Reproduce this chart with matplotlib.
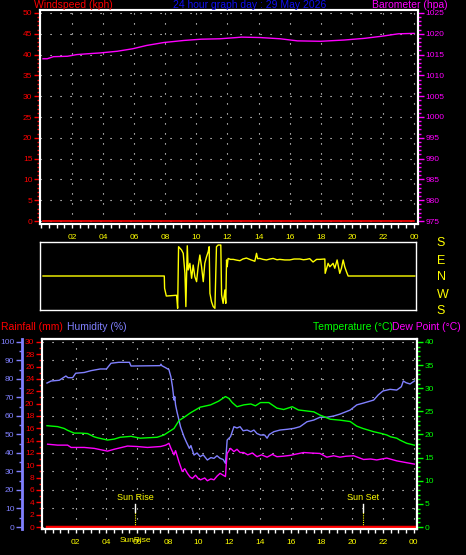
import matplotlib
matplotlib.use('Agg')
import matplotlib.pyplot as plt
from matplotlib.ticker import MultipleLocator

plt.rcParams['font.family'] = ['Liberation Sans', 'DejaVu Sans']

# ---- data ----
hour_ticks = [2, 4, 6, 8, 10, 12, 14, 16, 18, 20, 22, 24]
hour_labels = ['02', '04', '06', '08', '10', '12', '14', '16', '18', '20', '22', '00']

wind_h = [0.13, 24.0]
wind = [0, 0]

baro_h = [0.13, 0.4, 0.8, 1.7, 2.3, 3.0, 3.8, 4.9, 5.9, 6.8, 7.9, 9.2, 10.3, 11.5,
          12.6, 12.9, 14.1, 15.4, 16.5, 18.0, 19.5, 20.8, 21.9, 23.0, 24.0]
baro = [1014.0, 1014.0, 1014.5, 1014.6, 1015.0, 1015.2, 1015.4, 1015.8, 1016.4, 1017.2,
        1017.9, 1018.4, 1018.7, 1018.8, 1019.1, 1019.2, 1019.1, 1018.8, 1018.3, 1018.2,
        1018.5, 1018.9, 1019.4, 1020.0, 1020.1]

# wind direction: 0 = N, 90 = E, -90 = W, +/-180 = S
dir_h = [0.13, 7.94, 7.96, 8.07, 8.73, 8.80, 8.86, 9.05, 9.16, 9.27, 9.33, 9.42, 9.48,
         9.59, 9.70, 9.80, 9.91, 10.02, 10.12, 10.23, 10.34, 10.45, 10.55, 10.66, 10.77,
         10.83, 10.88, 10.98, 11.09, 11.20, 11.30, 11.41, 11.52, 11.58, 11.63, 11.73,
         11.84, 11.90, 11.95, 11.99, 12.05, 12.2, 12.38, 12.6, 12.81, 13.0, 13.23, 13.5,
         13.77, 13.88, 13.95, 14.09, 14.3, 14.52, 14.75, 14.95, 15.2, 15.38, 15.7, 16.02,
         16.3, 16.67, 16.9, 17.10, 17.3, 17.52, 17.75, 17.95, 18.28, 18.30, 18.49, 18.60,
         18.81, 18.92, 19.07, 19.24, 19.35, 19.46, 19.56, 19.67, 19.78, 24.07]
wdir = [0, 0, -65, -106, -102, -171, 155, 138, 120, 14, -162, 160, 32,
        67, -12, 58, -4, -30, 49, 111, 49, -30, 67, 102, 129,
        155, -92, -136, -162, -171, 155, 164, 164, 164, -100, -145,
        -74, -145, 85, 49, 93, 88, 88, 84, 81, 90, 95, 86,
        78, 120, 92, 93, 88, 85, 90, 93, 86, 88, 85, 85,
        90, 90, 86, 88, 92, 74, 88, 88, 90, 14, 67, 49,
        67, 41, 85, 14, 41, 85, 49, 23, 0, 0]

hum_h = [0.13, 0.4, 0.93, 1.36, 1.5, 1.8, 2.0, 2.55, 3.0, 3.6, 4.0, 4.3, 4.8, 5.5, 5.6,
         7.5, 7.55, 7.6, 7.85, 8.07, 8.2, 8.3, 8.4, 8.45, 8.5, 8.6, 8.83, 9.05, 9.2, 9.4,
         9.5, 9.7, 9.9, 10.1, 10.3, 10.57, 10.8, 11.0, 11.2, 11.4, 11.6, 11.75, 11.8, 11.86,
         12.08, 12.3, 12.5, 12.7, 12.9, 13.16, 13.4, 13.6, 13.8, 14.03, 14.3, 14.46, 14.6,
         14.9, 15.3, 15.76, 16.2, 16.6, 17.06, 17.5, 17.9, 18.35, 18.8, 19.2, 19.87, 20.3,
         20.7, 21.4, 21.7, 22.0, 22.47, 22.9, 23.2, 23.33, 23.5, 23.77, 24.05]
hum = [77.8, 78.9, 79.3, 81.6, 80.7, 80.7, 83.1, 83.5, 84.5, 85.4, 85.4, 88.5, 89.0, 89.0, 87.0,
       87.2, 88.0, 87.2, 86.1, 85.0, 81.0, 75.8, 68.6, 70.4, 66.0, 62.0, 54.0, 48.8, 46.0, 42.5,
       44.0, 38.9, 40.0, 38.0, 39.0, 36.2, 37.5, 37.1, 38.5, 37.1, 36.5, 34.4, 40.0, 47.0,
       48.8, 54.2, 53.5, 54.2, 52.0, 52.4, 51.5, 52.4, 50.5, 49.7, 49.7, 48.0, 50.0,
       51.5, 52.4, 52.8, 53.3, 54.2, 56.9, 57.8, 59.3, 59.3, 60.0, 61.0, 63.2, 66.0,
       66.9, 68.6, 71.4, 73.5, 74.4, 74.0, 75.8, 78.9, 78.0, 77.3, 78.9]

temp_h = [0.13, 0.82, 1.25, 1.47, 1.9, 2.3, 2.77, 3.2, 3.4, 4.07, 4.5, 4.9, 5.6, 6.2, 7.3,
          7.75, 8.07, 8.4, 8.72, 9.05, 9.48, 10.1, 10.78, 11.3, 11.75, 11.97, 12.19, 12.5,
          12.94, 13.4, 13.7, 14.03, 14.57, 15.1, 15.54, 16.1, 16.5, 17.5, 17.9, 18.57, 19.2,
          19.87, 20.3, 20.7, 21.4, 21.8, 22.25, 22.5, 22.9, 23.1, 23.55, 24.05]
temp = [21.9, 21.7, 21.3, 20.9, 20.3, 20.3, 20.2, 19.5, 19.3, 18.8, 19.0, 19.4, 19.6, 19.2, 19.4,
        19.9, 20.6, 21.3, 23.0, 23.7, 24.7, 25.9, 26.4, 27.2, 28.2, 27.8, 26.9, 26.0,
        26.4, 26.6, 26.2, 26.9, 26.9, 25.7, 25.4, 26.0, 25.3, 24.9, 24.2, 23.3, 23.1,
        22.8, 21.8, 21.3, 20.6, 20.3, 19.9, 19.5, 19.2, 18.8, 18.1, 17.7]

dew_h = [0.17, 0.82, 1.47, 1.7, 2.55, 3.2, 4.07, 4.5, 5.37, 6.0, 6.67, 7.53, 7.86, 8.07, 8.2,
         8.4, 8.5, 8.72, 8.94, 9.1, 9.27, 9.45, 9.6, 9.8, 10.0, 10.13, 10.4, 10.57, 10.8, 11.0,
         11.2, 11.4, 11.6, 11.75, 11.8, 11.86, 12.08, 12.3, 12.5, 12.7, 12.94, 13.2, 13.5,
         13.8, 14.1, 14.46, 14.8, 15.1, 15.5, 16.0, 16.4, 16.84, 17.3, 17.9, 18.35, 18.8,
         19.2, 19.6, 20.1, 20.74, 21.2, 21.6, 22.25, 22.9, 23.55, 24.05]
dew = [17.9, 17.7, 17.7, 17.2, 17.2, 17.0, 16.4, 16.8, 17.5, 17.4, 17.2, 17.4, 17.7, 18.1, 17.0,
       15.6, 16.5, 14.1, 12.0, 12.6, 11.6, 10.8, 10.5, 11.2, 10.4, 10.2, 10.6, 10.0, 10.4, 10.2,
       11.0, 11.6, 11.2, 10.9, 13.5, 15.9, 17.0, 16.3, 16.8, 16.1, 16.1, 15.6, 16.0,
       15.2, 15.6, 15.1, 15.7, 15.2, 15.3, 15.5, 15.8, 16.1, 16.0, 15.9, 15.1, 15.4,
       15.1, 15.3, 15.4, 14.6, 14.7, 14.5, 14.9, 14.3, 13.9, 13.6]

rain_h = [0.1, 24.05]
rain = [0, 0]

sunrise = 5.88
sunset = 20.72

# colours
RED = '#ff0000'
MAG = '#ff00ff'
YEL = '#ffff00'
GRN = '#00ff00'
HUM = '#8080ff'
TBLUE = '#1010f0'
DOTS = (0, (1, 8))

W, H = 466, 555


def box(l, t, r, b):
    return [l / W, 1 - b / H, (r - l) / W, (b - t) / H]


def ftext(x, y, s, color, size=7.5, ha='left'):
    fig.text(x / W, 1 - y / H, s, color=color, fontsize=size, ha=ha, va='center')


def white_frame(ax, lw=1.5):
    for sp in ax.spines.values():
        sp.set_color('white')
        sp.set_linewidth(lw)


def hour_axis(ax):
    ax.set_xticks(hour_ticks)
    ax.set_xticklabels(hour_labels)
    ax.xaxis.set_minor_locator(MultipleLocator(0.5))
    ax.tick_params(axis='x', which='both', colors='white', labelcolor=YEL,
                   labelsize=6, length=3, width=1, pad=4)


def yticks(ax, color, major, minor, side='left'):
    ax.yaxis.set_major_locator(MultipleLocator(major))
    ax.yaxis.set_minor_locator(MultipleLocator(minor))
    ax.tick_params(axis='y', which='major', colors=color, labelcolor=color,
                   labelsize=6, length=4, width=1, pad=1.5)
    ax.tick_params(axis='y', which='minor', colors=color, length=2, width=1)


fig = plt.figure(figsize=(4.66, 5.55), dpi=100, facecolor='black')

# ---- top: windspeed / barometer ----
ax1 = fig.add_axes(box(40, 10, 418, 224))
ax1.set_facecolor('black')
ax1.grid(True, color='white', ls=DOTS, lw=0.8)
ax1.plot(wind_h, wind, color=RED, lw=1.2)
ax1.set_xlim(-0.064, 24.26)
ax1.set_ylim(-0.72, 50.72)
ax1.set_yticks(range(0, 51, 5))
yticks(ax1, RED, 5, 1)
hour_axis(ax1)
white_frame(ax1)

ax1b = ax1.twinx()
ax1b.plot(baro_h, baro, color=MAG, lw=1)
ax1b.set_ylim(974.28, 1025.72)
yticks(ax1b, MAG, 5, 1)
white_frame(ax1b)

ftext(34, 5, 'Windspeed (kph)', RED)
ftext(250, 5, '24 hour graph day : 29 May 2026', TBLUE, ha='center')
ftext(372, 5, 'Barometer (hpa)', MAG)

# ---- middle: wind direction ----
ax2 = fig.add_axes(box(40, 242, 416, 310))
ax2.set_facecolor('black')
ax2.plot(dir_h, wdir, color=YEL, lw=1)
ax2.set_xlim(-0.064, 24.15)
ax2.set_ylim(-180, 180)
ax2.set_xticks([])
ax2.yaxis.tick_right()
ax2.set_yticks([180, 90, 0, -90, -180])
ax2.set_yticklabels(['S', 'E', 'N', 'W', 'S'])
ax2.tick_params(axis='y', length=0, labelcolor=YEL, labelsize=9, pad=15)
white_frame(ax2, 1)

# ---- bottom: humidity / rainfall / temperature / dew point ----
ax3 = fig.add_axes(box(42, 339, 417, 529))
ax3.set_facecolor('black')
ax3.grid(True, color='white', ls=DOTS, lw=0.8)
ax3.plot(hum_h, hum, color=HUM, lw=1)
ax3.set_xlim(-0.195, 24.22)
ax3.set_ylim(-1.08, 101.6)
ax3.set_yticks(range(0, 101, 10))
yticks(ax3, HUM, 10, 5)
hour_axis(ax3)
white_frame(ax3)
ax3.spines['left'].set_position(('outward', 14.4))
ax3.spines['left'].set_color(HUM)
ax3.spines['left'].set_linewidth(2)

ax3r = ax3.twinx()
ax3r.yaxis.tick_left()
ax3r.plot(rain_h, rain, color=RED, lw=2.5)
ax3r.set_ylim(-0.324, 30.48)
yticks(ax3r, RED, 2, 1)
white_frame(ax3r)

ax3t = ax3.twinx()
ax3t.plot(temp_h, temp, color=GRN, lw=1)
ax3t.plot(dew_h, dew, color=MAG, lw=1)
ax3t.set_ylim(-0.43, 40.64)
yticks(ax3t, GRN, 5, 1)
white_frame(ax3t)

for t, name in [(sunrise, 'Sun Rise'), (sunset, 'Sun Set')]:
    ax3.plot([t, t], [0, 12.4], color=YEL, lw=0.8, ls=(0, (1, 1)))
    ax3.plot([t, t], [8.1, 12.4], color='white', lw=1)
    ax3.text(t, 15.7, name, color=YEL, fontsize=6.5, ha='center', va='center')
ax3.text(sunrise, -0.058, 'SunRise', color=YEL, fontsize=6, ha='center', va='center',
         transform=ax3.get_xaxis_transform())

ftext(1, 327, 'Rainfall (mm)', RED, ha='left')
ftext(67, 327, 'Humidity (%)', HUM, ha='left')
ftext(313, 327, 'Temperature (°C)', GRN, ha='left')
ftext(392, 327, 'Dew Point (°C)', MAG, ha='left')

fig.savefig('out.png', dpi=100, facecolor='black')
